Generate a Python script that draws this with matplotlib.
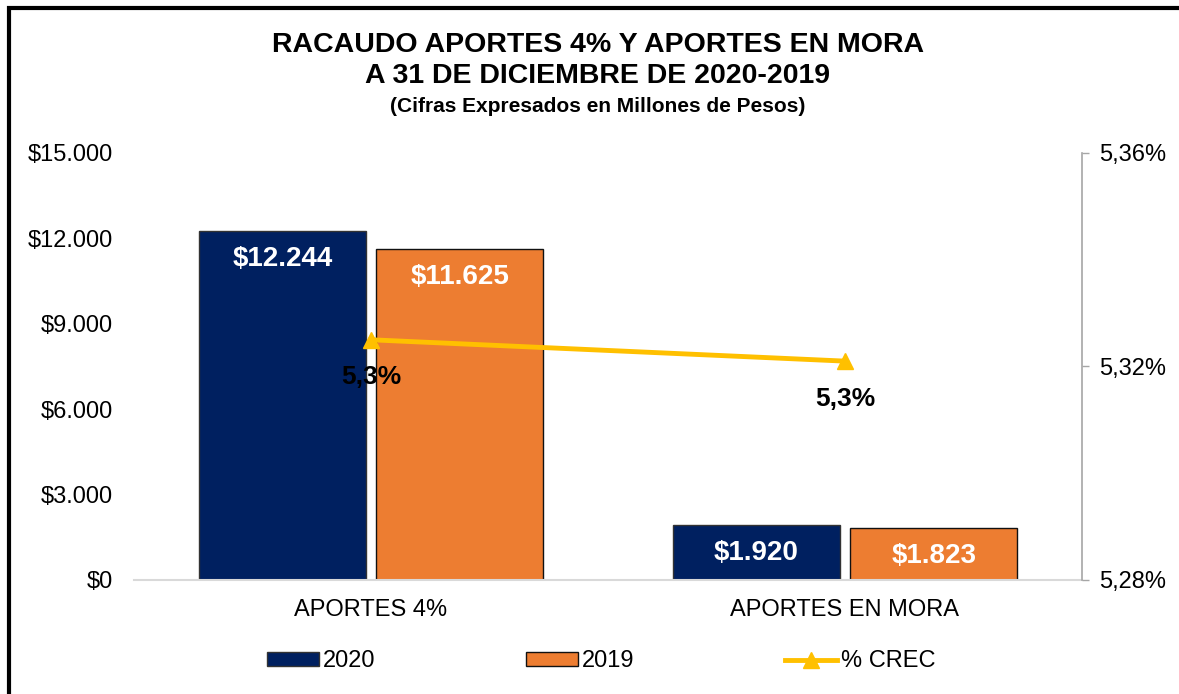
import matplotlib
matplotlib.use("Agg")
import matplotlib.pyplot as plt
import matplotlib.ticker as ticker
from matplotlib.patches import Rectangle
import numpy as np

plt.rcParams["font.family"] = ["Liberation Sans", "DejaVu Sans"]

# Data
categorias = ["APORTES 4%", "APORTES EN MORA"]
valores_2020 = [12244, 1920]
valores_2019 = [11625, 1823]
crec = [5.325, 5.321]          # % crecimiento
etiquetas_crec = ["5,3%", "5,3%"]

azul = "#002060"
naranja = "#ED7D31"
amarillo = "#FFC000"

fig = plt.figure(figsize=(11.79, 6.94), dpi=100)
ax = fig.add_axes([0.1137, 0.1643, 0.804, 0.6153])
ax2 = ax.twinx()

x = np.arange(len(categorias))
ancho = 0.352
desp = 0.187

b1 = ax.bar(x - desp, valores_2020, ancho, color=azul, edgecolor="#333333",
            linewidth=1, label="2020", zorder=2)
b2 = ax.bar(x + desp, valores_2019, ancho, color=naranja, edgecolor="#111111",
            linewidth=1, label="2019", zorder=2)

for barras in (b1, b2):
    for b in barras:
        v = b.get_height()
        ax.annotate("${:,.0f}".format(v).replace(",", "."),
                    (b.get_x() + b.get_width() / 2, v), xytext=(0, -20),
                    textcoords="offset points", ha="center", va="center",
                    color="white", fontsize=20, fontweight="bold", zorder=5)

ax.set_xlim(-0.5, 1.5)
ax.set_ylim(0, 15000)
ax.set_yticks(range(0, 15001, 3000))
ax.yaxis.set_major_formatter(ticker.FuncFormatter(
    lambda v, p: "${:,.0f}".format(v).replace(",", ".")))
ax.set_xticks(x)
ax.set_xticklabels(categorias)
ax.tick_params(axis="x", length=0, pad=14, labelsize=17)
ax.tick_params(axis="y", length=0, pad=15, labelsize=17)
for s in ("left", "right", "top"):
    ax.spines[s].set_visible(False)
ax.spines["bottom"].set_color("#d9d9d9")
ax.spines["bottom"].set_linewidth(1.5)

# Line on secondary axis
ln, = ax2.plot(x, crec, color=amarillo, linewidth=3.5, marker="^",
               markersize=11, label="% CREC", zorder=4)
for xi, yi, t in zip(x, crec, etiquetas_crec):
    ax2.annotate(t, (xi, yi), xytext=(0, -27), textcoords="offset points",
                 ha="center", va="center", fontsize=19, fontweight="bold",
                 color="black", zorder=6)
ax2.set_ylim(5.28, 5.36)
ax2.set_yticks([5.28, 5.32, 5.36])
ax2.yaxis.set_major_formatter(ticker.FuncFormatter(
    lambda v, p: "{:.2f}%".format(v).replace(".", ",")))
ax2.tick_params(axis="y", length=5, width=1, color="#a6a6a6", pad=7,
                labelsize=17, direction="out")
for s in ("left", "top", "bottom"):
    ax2.spines[s].set_visible(False)
ax2.spines["right"].set_color("#a6a6a6")
ax2.spines["right"].set_linewidth(1.2)

# Titles
fig.text(0.507, 0.935, "RACAUDO APORTES 4% Y APORTES EN MORA", ha="center",
         va="center", fontsize=20.5, fontweight="bold")
fig.text(0.507, 0.890, "A 31 DE DICIEMBRE DE 2020-2019", ha="center",
         va="center", fontsize=20.5, fontweight="bold")
fig.text(0.507, 0.846, "(Cifras Expresados en Millones de Pesos)", ha="center",
         va="center", fontsize=15, fontweight="bold")

# Legend
fig.legend(handles=[b1, b2, ln], loc="center", bbox_to_anchor=(0.51, 0.047),
           ncol=3, frameon=False, fontsize=17, handlelength=2.2,
           handleheight=0.5, handletextpad=0.15, columnspacing=6.4)

# Outer frame
fig.patches.append(Rectangle((9 / 1179, -0.1), 1.2, 1 - 8 / 694 + 0.1,
                             transform=fig.transFigure, fill=False,
                             edgecolor="black", linewidth=3))

fig.savefig("out.png", dpi=100)
